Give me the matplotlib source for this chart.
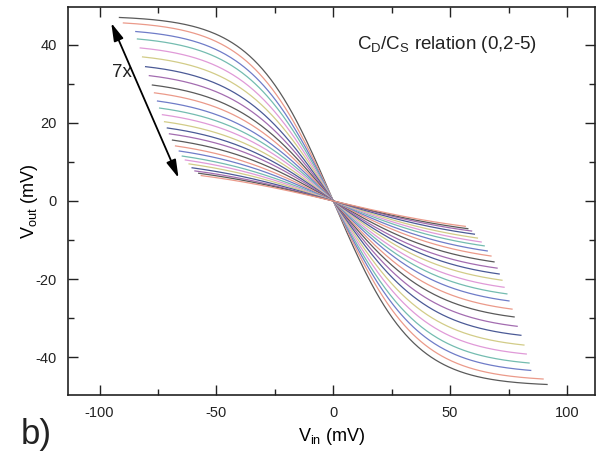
import numpy as np
import matplotlib
matplotlib.use("Agg")
import matplotlib.pyplot as plt

plt.rcParams['font.family'] = ['Liberation Sans', 'DejaVu Sans']
plt.rcParams['mathtext.fontset'] = 'custom'
plt.rcParams['mathtext.rm'] = 'Liberation Sans'
plt.rcParams['mathtext.it'] = 'Liberation Sans:italic'
plt.rcParams['axes.unicode_minus'] = False

# end point of each curve (left end is (-x_end, y_end), right end mirrored)
x_end = [91.5, 89.8, 84.5, 83.8, 82.6, 81.6, 80.3, 78.7, 77.4, 76.5, 75.2, 74.3,
         73.1, 72.2, 71.0, 70.1, 68.8, 67.5, 65.9, 64.6, 63.3, 61.7, 60.4, 59.2,
         57.6, 56.5]
y_end = [47.0, 45.6, 43.4, 41.5, 39.2, 36.9, 34.4, 32.1, 29.7, 27.7, 25.6, 23.8,
         22.1, 20.3, 18.7, 17.2, 15.6, 14.1, 12.8, 11.5, 10.5, 9.5, 8.5, 7.7,
         7.1, 6.5]
# saturation voltage (knee) of each curve, mV
knee = [34, 36, 37, 38, 39, 40, 41, 42, 43, 44, 45, 46, 47, 48, 49, 50, 52, 54,
        56, 58, 60, 62, 64, 66, 68, 70]

colors = ['#5a5a5a', '#eb9a8a', '#6f7cc8', '#74bcb0', '#e09ad8', '#d2cc88',
          '#4b5a96', '#a36cb0']

xticks_major = [-100, -50, 0, 50, 100]
yticks_major = [-40, -20, 0, 20, 40]

arrow_top = (-95.0, 45.6)
arrow_bottom = (-66.2, 5.9)

fig = plt.figure(figsize=(6.03, 4.53), dpi=100)
ax = fig.add_axes([0.1128, 0.128, 0.8739, 0.8567])

for i in range(len(x_end)):
    xe, ye, s = x_end[i], y_end[i], knee[i]
    vin = np.linspace(-xe, xe, 300)
    vout = -ye * np.tanh(vin / s) / np.tanh(xe / s)
    ax.plot(vin, vout, color=colors[i % len(colors)], lw=0.9)

ax.set_xlim(-113.5, 112)
ax.set_ylim(-49.7, 49.7)
ax.set_xticks(xticks_major)
ax.set_xticks([-75, -25, 25, 75], minor=True)
ax.set_yticks(yticks_major)
ax.set_yticks([-30, -10, 10, 30], minor=True)
ax.tick_params(which='both', direction='in', top=True, right=True,
               labelsize=10.5, width=1, colors='#222222')
ax.tick_params(which='major', length=7)
ax.tick_params(which='minor', length=4)
ax.tick_params(axis='x', pad=8)
ax.tick_params(axis='y', pad=8)
for sp in ax.spines.values():
    sp.set_linewidth(1.2)
    sp.set_color('#222222')

ax.set_xlabel(r'$\mathregular{V_{in}}$ (mV)', fontsize=13, labelpad=4)
ax.set_ylabel(r'$\mathregular{V_{out}}$ (mV)', fontsize=13)
ax.yaxis.set_label_coords(-0.053, 0.5)

ax.text(10.3, 40, r'$\mathregular{C_D/C_S}$ relation (0,2-5)', fontsize=13.5,
        va='center', ha='left', color='#222222')
ax.text(-90.5, 33, '7x', fontsize=13.5, ha='center', va='center', color='#222222')
ax.annotate('', xy=arrow_top, xytext=arrow_bottom,
            arrowprops=dict(arrowstyle='<|-|>,head_length=0.9,head_width=0.25',
                            color='black', lw=1.3,
                            mutation_scale=12, shrinkA=0, shrinkB=0))

fig.text(0.035, 0.005, 'b)', fontsize=25, ha='left', va='bottom', color='#222222')

fig.savefig('out.png', dpi=100)
